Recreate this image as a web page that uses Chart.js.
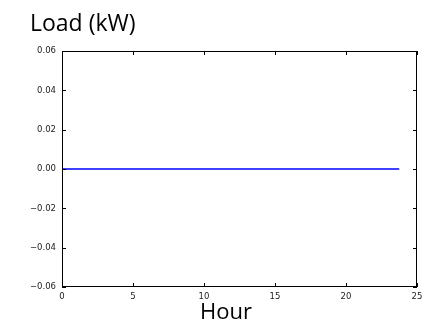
<!DOCTYPE html>
<html>
<head>
<meta charset="utf-8">
<script src="https://cdn.jsdelivr.net/npm/chart.js@4"></script>
<style>
html,body{margin:0;padding:0;background:#fff;}
#wrap{width:422px;height:321px;position:relative;}
</style>
</head>
<body>
<div id="wrap"><canvas id="c" width="422" height="321"></canvas></div>
<script>
const chartTitle = "Load (kW)";
const xAxisLabel = "Hour";
const hours = [0, 23.75];
const loadKW = [0, 0];
const xTicks = [0, 5, 10, 15, 20, 25];
const yTicks = [-0.06, -0.04, -0.02, 0.00, 0.02, 0.04, 0.06];

const frameTicks = {
  id: 'frameTicks',
  afterDraw(chart) {
    const ctx = chart.ctx, a = chart.chartArea;
    const xs = chart.scales.x, ys = chart.scales.y;
    ctx.save();
    ctx.strokeStyle = '#000';
    ctx.lineWidth = 1;
    ctx.strokeRect(Math.round(a.left) + 0.5, Math.round(a.top) + 0.5, Math.round(a.right - a.left) - 1, Math.round(a.bottom - a.top) - 1);
    const L = 4;
    ctx.beginPath();
    xTicks.forEach(v => {
      const px = Math.round(xs.getPixelForValue(v)) + 0.5;
      ctx.moveTo(px, a.bottom); ctx.lineTo(px, a.bottom - L);
      ctx.moveTo(px, a.top); ctx.lineTo(px, a.top + L);
    });
    yTicks.forEach(v => {
      const py = Math.round(ys.getPixelForValue(v)) + 0.5;
      ctx.moveTo(a.left, py); ctx.lineTo(a.left + L, py);
      ctx.moveTo(a.right, py); ctx.lineTo(a.right - L, py);
    });
    ctx.stroke();
    ctx.fillStyle = '#000';
    ctx.font = '23px "Open Sans"';
    ctx.textAlign = 'left';
    ctx.textBaseline = 'alphabetic';
    ctx.fillText(chartTitle, 30, 31);
    ctx.font = '22px "Open Sans"';
    ctx.fillText(xAxisLabel, 200, 319);
    ctx.restore();
  }
};

new Chart(document.getElementById('c'), {
  type: 'line',
  data: {
    datasets: [{
      data: hours.map((h, i) => ({x: h, y: loadKW[i]})),
      borderColor: '#0000ff',
      borderWidth: 1.3,
      pointRadius: 0,
      fill: false,
      tension: 0
    }]
  },
  options: {
    responsive: false,
    animation: false,
    devicePixelRatio: 1,
    layout: { padding: { left: 0, right: 0, top: 51, bottom: 0 } },
    plugins: { legend: { display: false }, tooltip: { enabled: false }, title: { display: false } },
    scales: {
      x: {
        type: 'linear', min: 0, max: 25,
        afterBuildTicks(s) { s.ticks = xTicks.map(v => ({value: v})); },
        afterFit(s) { s.height = 34; s.paddingRight = 5; },
        grid: { display: false, drawTicks: false },
        border: { display: false },
        ticks: { padding: 5, color: '#222', font: { family: 'DejaVu Sans', size: 8.5 }, maxRotation: 0,
                 callback: v => String(v) }
      },
      y: {
        type: 'linear', min: -0.06, max: 0.06,
        afterBuildTicks(s) { s.ticks = yTicks.map(v => ({value: v})); },
        afterFit(s) { s.width = 62; },
        grid: { display: false, drawTicks: false },
        border: { display: false },
        ticks: { padding: 6, color: '#222', font: { family: 'DejaVu Sans', size: 8.5 },
                 callback: v => (v < 0 ? '\u2212' : '') + Math.abs(v).toFixed(2) }
      }
    }
  },
  plugins: [frameTicks]
});
</script>
</body>
</html>
